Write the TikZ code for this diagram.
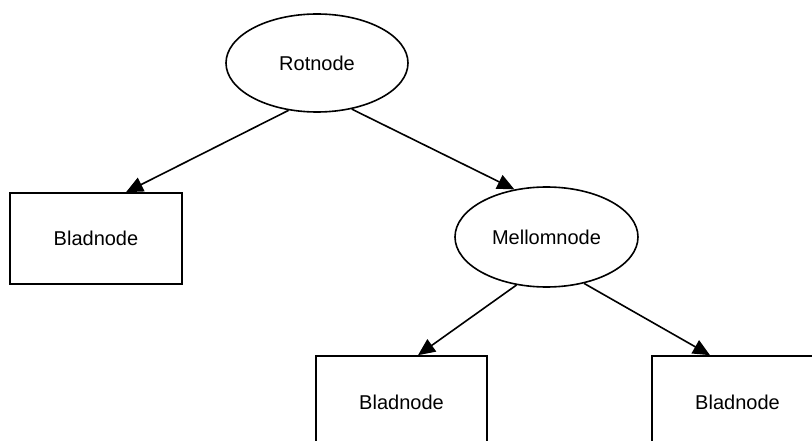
\documentclass[tikz,border=0pt]{standalone}
\usepackage{fontspec}
\setmainfont{Liberation Sans}
\usetikzlibrary{shapes.geometric,arrows.meta}
\tikzset{
  ellnode/.style={ellipse,draw,line width=1.6pt,inner sep=0pt,minimum width=182pt,minimum height=98pt,font=\fontsize{20}{24}\selectfont},
  leafbox/.style={rectangle,draw,line width=1.6pt,inner sep=0pt,minimum width=172pt,minimum height=91pt,font=\fontsize{20}{24}\selectfont},
  conn/.style={line width=1.6pt,-{Triangle[length=17pt,width=15pt]}}
}
\begin{document}
\begin{tikzpicture}[x=1pt,y=-1pt]
\clip (0,0) rectangle (812,441);
\node[ellnode] (root) at (317,63) {Rotnode};
\node[ellnode,minimum width=183pt,minimum height=100pt] (mid) at (546.5,237) {Mellomnode};
\node[leafbox] (leafA) at (96,238.5) {Bladnode};
\node[leafbox,minimum width=171pt,minimum height=92pt] (leafB) at (401.5,402) {Bladnode};
\node[leafbox,minimum width=171pt,minimum height=92pt] (leafC) at (737.5,402) {Bladnode};
\draw[conn] (root.239) -- ([xshift=30pt]leafA.north);
\draw[conn] (root.307) -- (mid.124);
\draw[conn] (mid.238) -- ([xshift=16.5pt]leafB.north);
\draw[conn] (mid.309) -- ([xshift=-27.5pt]leafC.north);
\end{tikzpicture}
\end{document}
